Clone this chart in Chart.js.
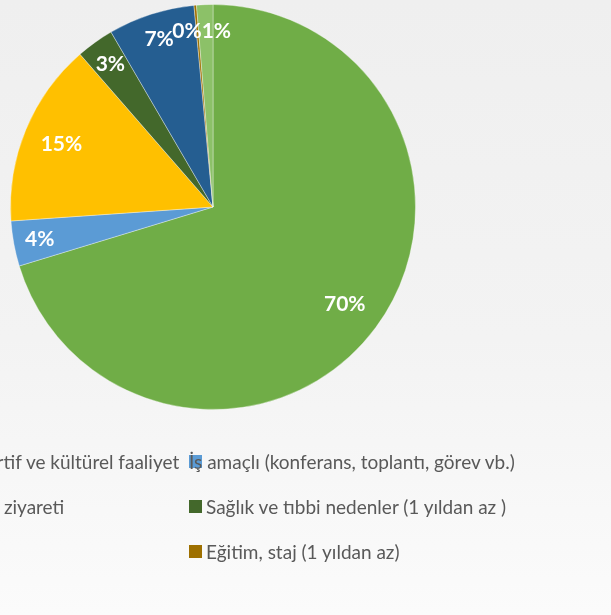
<!DOCTYPE html>
<html>
<head>
<meta charset="utf-8">
<script src="https://cdn.jsdelivr.net/npm/chart.js@4"></script>
<style>
  html, body { margin: 0; padding: 0; }
  body {
    width: 611px; height: 615px; overflow: hidden; position: relative;
    background: linear-gradient(#efefef, #f3f3f3 55%, #fbfbfb);
    font-family: Lato, sans-serif;
  }
  #chart { position: absolute; left: 0; top: 0; }
  #legend { position: absolute; left: 0; top: 0; width: 611px; height: 615px; }
  .lg-text { position: absolute; white-space: nowrap; font-size: 19px; line-height: 20px; color: #595959; }
  .lg-box { position: absolute; width: 13px; height: 13px; }
</style>
</head>
<body>
<canvas id="chart" width="611" height="615"></canvas>
<div id="legend"></div>
<script>
// travel purposes, share of total (%)
const categories = [
    'Gezi, eğlence, sportif ve kültürel faaliyet',
    'İş amaçlı (konferans, toplantı, görev vb.)',
    'Akraba ve arkadaş ziyareti',
    'Sağlık ve tıbbi nedenler (1 yıldan az )',
    'Dini/Hac',
    'Eğitim, staj (1 yıldan az)',
    'Diğer'
];
const shares = [70.3, 3.6, 14.7, 3.0, 6.9, 0.2, 1.3];
const colors = ['#70AD47', '#5B9BD5', '#FFC000', '#43682B', '#255E91', '#9E7000', '#8CC168'];

// percent labels inside the slices
const pctLabels = {
    id: 'pctLabels',
    afterDatasetsDraw(chart) {
        const ctx = chart.ctx;
        const meta = chart.getDatasetMeta(0);
        const total = shares.reduce((a, b) => a + b, 0);
        ctx.save();
        ctx.font = 'bold 21px Lato';
        ctx.fillStyle = '#ffffff';
        ctx.textAlign = 'center';
        ctx.textBaseline = 'middle';
        const pts = meta.data.map((arc, i) => {
            const p = arc.getProps(['x', 'y', 'startAngle', 'endAngle', 'outerRadius'], true);
            const mid = (p.startAngle + p.endAngle) / 2;
            const share = shares[i] / total;
            const r = p.outerRadius * (share >= 0.1 ? 0.81 : 0.87);
            const text = Math.round(share * 100) + '%';
            return { text, x: p.x + Math.cos(mid) * r, y: p.y + Math.sin(mid) * r, w: ctx.measureText(text).width };
        });
        // push apart neighbours that sit on top of each other
        for (let i = 0; i < pts.length - 1; i++) {
            const a = pts[i], b = pts[i + 1];
            const overlap = (a.w + b.w) / 2 - Math.abs(b.x - a.x);
            if (overlap > 0 && Math.abs(a.y - b.y) < 16) {
                const s = overlap / 2 * (b.x >= a.x ? 1 : -1);
                a.x -= s;
                b.x += s;
            }
        }
        pts.forEach(p => ctx.fillText(p.text, p.x, p.y));
        ctx.restore();
    }
};

function createPurposeChart() {
    const ctx = document.getElementById('chart').getContext('2d');
    return new Chart(ctx, {
        type: 'pie',
        data: {
            labels: categories,
            datasets: [{
                data: shares,
                backgroundColor: colors,
                borderColor: 'rgba(255, 255, 255, 0.35)',
                borderWidth: 1,
                hoverOffset: 0
            }]
        },
        options: {
            responsive: false,
            animation: false,
            events: [],
            layout: { padding: { left: 10, top: 4, right: 195, bottom: 205 } },
            plugins: {
                legend: { display: false },
                tooltip: { enabled: false }
            }
        },
        plugins: [pctLabels]
    });
}

// legend laid out in two columns, row by row, wider than the page on the left
function buildLegend() {
    const el = document.getElementById('legend');
    const m = document.createElement('canvas').getContext('2d');
    m.font = '19px Lato';
    const rightBox = 189;
    const leftTextStart = 180 - m.measureText(categories[0]).width;
    const leftBox = leftTextStart - 17;
    categories.forEach((name, i) => {
        const col = i % 2, row = Math.floor(i / 2);
        const cy = 462 + row * 45;
        const bx = col ? rightBox : leftBox;
        const box = document.createElement('div');
        box.className = 'lg-box';
        box.style.left = bx + 'px';
        box.style.top = (cy - 7) + 'px';
        box.style.background = colors[i];
        el.appendChild(box);
        const t = document.createElement('div');
        t.className = 'lg-text';
        // first right-hand entry runs over its own marker in the source
        t.style.left = (i === 1 ? bx : bx + 17) + 'px';
        t.style.top = (cy - 10) + 'px';
        t.textContent = name;
        el.appendChild(t);
    });
}

createPurposeChart();
buildLegend();
</script>
</body>
</html>
